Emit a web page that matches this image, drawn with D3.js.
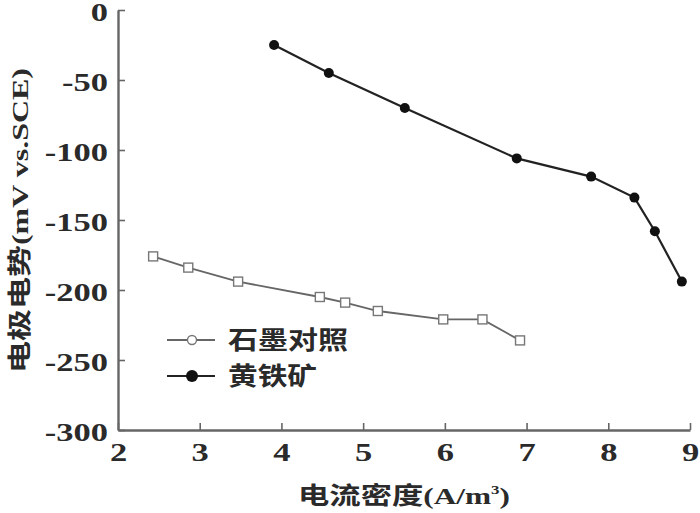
<!DOCTYPE html>
<html>
<head>
<meta charset="utf-8">
<script src="https://cdn.jsdelivr.net/npm/d3@7"></script>
<style>
  body { margin: 0; background: #fff; }
  .serif { font-family: "Liberation Serif", "Times New Roman", "DejaVu Serif", serif; font-weight: bold; }
  .cjk { font-family: "Noto Sans CJK SC", sans-serif; font-weight: bold; }
</style>
</head>
<body>
<svg id="chart"></svg>
<script>
// 石墨对照 (graphite control)
const graphiteX = [2.43, 2.86, 3.47, 4.47, 4.78, 5.18, 5.98, 6.46, 6.92];
const graphiteY = [-176, -184, -194, -205, -209, -215, -221, -221, -236];
// 黄铁矿 (pyrite)
const pyriteX = [3.91, 4.58, 5.51, 6.88, 7.79, 8.32, 8.57, 8.90];
const pyriteY = [-25, -45, -70, -106, -119, -134, -158, -194];

const xTicks = [2, 3, 4, 5, 6, 7, 8, 9];
const yTicks = [0, -50, -100, -150, -200, -250, -300];
const seriesNames = ["石墨对照", "黄铁矿"];

const width = 700, height = 513;
const margin = { top: 10, right: 10, bottom: 83, left: 118 };
const sx = 1.38; // reference glyphs are wide, so tick text gets stretched

const svg = d3.select("#chart").attr("width", width).attr("height", height);

const x = d3.scaleLinear().domain([2, 9]).range([margin.left, width - margin.right]);
const y = d3.scaleLinear().domain([-300, 0]).range([height - margin.bottom, margin.top]);

const axisColor = "#666";
const fmt = d => String(d);

// x axis, ticks pointing inward
const gx = svg.append("g")
  .attr("transform", `translate(0,${height - margin.bottom})`)
  .call(d3.axisBottom(x).tickValues(xTicks).tickFormat(fmt).tickSizeInner(-7).tickSizeOuter(0));
// y axis
const gy = svg.append("g")
  .attr("transform", `translate(${margin.left},0)`)
  .call(d3.axisLeft(y).tickValues(yTicks).tickFormat(fmt).tickSizeInner(-7).tickSizeOuter(0));

[gx, gy].forEach(g => {
  g.attr("font-family", null).attr("font-size", null);
  g.select(".domain").attr("stroke", axisColor).attr("stroke-width", 2.4);
  g.selectAll(".tick line").attr("stroke", axisColor).attr("stroke-width", 1.6);
  g.selectAll(".tick text").attr("class", "serif").style("font-size", "25px").attr("fill", "#2a2a2a");
});
gx.selectAll(".tick text").attr("y", 31).attr("dy", 0);
gy.selectAll(".tick text").attr("x", -10).attr("dy", "0.42em");
// widen each tick label
svg.selectAll(".tick text").each(function () {
  const len = this.getComputedTextLength();
  d3.select(this).attr("textLength", len * sx).attr("lengthAdjust", "spacingAndGlyphs");
});

// lines
const line = d3.line().x(d => x(d[0])).y(d => y(d[1]));
const graphite = graphiteX.map((v, i) => [v, graphiteY[i]]);
const pyrite = pyriteX.map((v, i) => [v, pyriteY[i]]);

svg.append("path").datum(graphite).attr("d", line)
  .attr("fill", "none").attr("stroke", "#666").attr("stroke-width", 1.8);
svg.append("path").datum(pyrite).attr("d", line)
  .attr("fill", "none").attr("stroke", "#222").attr("stroke-width", 2.2);

svg.selectAll(".gpt").data(graphite).join("rect").attr("class", "gpt")
  .attr("x", d => x(d[0]) - 4.5).attr("y", d => y(d[1]) - 4.5)
  .attr("width", 9).attr("height", 9)
  .attr("fill", "#fff").attr("stroke", "#777").attr("stroke-width", 1.4);

svg.selectAll(".ppt").data(pyrite).join("circle").attr("class", "ppt")
  .attr("cx", d => x(d[0])).attr("cy", d => y(d[1])).attr("r", 5)
  .attr("fill", "#111");

// legend
const legend = svg.append("g").attr("transform", "translate(167,340)");
const legendWidths = [120, 89];
seriesNames.forEach((name, i) => {
  const g = legend.append("g").attr("transform", `translate(0,${i * 36})`);
  g.append("line").attr("x1", 0).attr("x2", 48).attr("y1", 0).attr("y2", 0)
    .attr("stroke", i === 0 ? "#666" : "#222").attr("stroke-width", i === 0 ? 1.8 : 2.2);
  if (i === 0) {
    g.append("circle").attr("cx", 25).attr("cy", 0).attr("r", 4.5)
      .attr("fill", "#fff").attr("stroke", "#777").attr("stroke-width", 1.4);
  } else {
    g.append("circle").attr("cx", 25).attr("cy", 0).attr("r", 6).attr("fill", "#111");
  }
  g.append("text").attr("class", "cjk").attr("x", 61).attr("y", 0).attr("dy", "0.36em")
    .attr("textLength", legendWidths[i]).attr("lengthAdjust", "spacingAndGlyphs")
    .style("font-size", "25px").attr("fill", "#2a2a2a").text(name);
});

// axis titles
const xt = svg.append("text").attr("x", 298).attr("y", 504)
  .attr("textLength", 212).attr("lengthAdjust", "spacingAndGlyphs")
  .style("font-size", "24px").attr("fill", "#2a2a2a");
xt.append("tspan").attr("class", "cjk").text("电流密度");
xt.append("tspan").attr("class", "serif").text("(A/m");
xt.append("tspan").attr("class", "serif").attr("dy", -10).style("font-size", "13px").text("3");
xt.append("tspan").attr("class", "serif").attr("dy", 10).text(")");

const yt = svg.append("text")
  .attr("transform", "translate(28,373) rotate(-90)")
  .attr("x", 0).attr("y", 0)
  .attr("textLength", 305).attr("lengthAdjust", "spacingAndGlyphs")
  .style("font-size", "24px").attr("fill", "#2a2a2a");
yt.append("tspan").attr("class", "cjk").text("电极电势");
yt.append("tspan").attr("class", "serif").text("(mV vs.SCE)");
</script>
</body>
</html>
